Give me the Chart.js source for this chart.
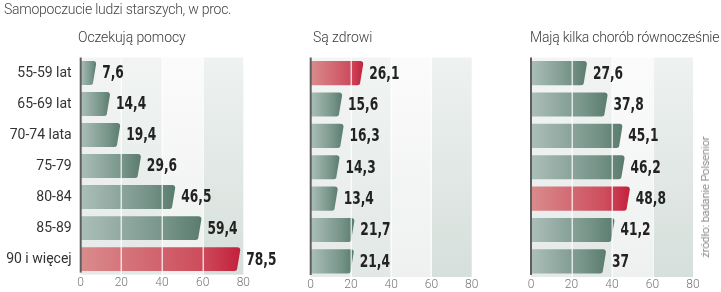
<!DOCTYPE html>
<html><head><meta charset="utf-8">
<script src="https://cdn.jsdelivr.net/npm/chart.js@4/dist/chart.umd.min.js"></script>
<style>
html,body{margin:0;padding:0;background:#fff;}
#wrap{position:relative;width:721px;height:292px;overflow:hidden;font-family:Roboto,sans-serif;}
canvas{position:absolute;top:0;left:0;}
.t{position:absolute;white-space:nowrap;color:#3a3a3a;line-height:16px;}
</style></head><body>
<div id="wrap">
<canvas id="c1" width="721" height="292"></canvas>
<canvas id="c2" width="721" height="292"></canvas>
<canvas id="c3" width="721" height="292"></canvas>
<div class="t" id="mainTitle" style="left:4px;top:1px;font-size:14px;font-weight:300;color:#444;letter-spacing:-0.25px;"></div>
<div class="t" id="pt0" style="left:78px;top:29px;font-size:14px;font-weight:300;letter-spacing:-0.1px;"></div>
<div class="t" id="pt1" style="left:313px;top:29px;font-size:14px;font-weight:300;letter-spacing:-0.05px;"></div>
<div class="t" id="pt2" style="left:530px;top:29px;font-size:14px;font-weight:300;letter-spacing:-0.22px;"></div>
<div class="t" id="src" style="left:706px;top:197px;font-size:11px;font-weight:300;color:#555;transform:translate(-50%,-50%) rotate(-90deg);"></div>
</div>
<script>
const categories = ['55-59 lat','65-69 lat','70-74 lata','75-79','80-84','85-89','90 i więcej'];
const expectHelp = [7.6,14.4,19.4,29.6,46.5,59.4,78.5];
const healthy = [26.1,15.6,16.3,14.3,13.4,21.7,21.4];
const multiDisease = [27.6,37.8,45.1,46.2,48.8,41.2,37];
const xTicks = [0,20,40,60,80];
const panelTitles = ['Oczekują pomocy','Są zdrowi','Mają kilka chorób równocześnie'];
const highlightIndex = [6,0,4];
const mainTitle = 'Samopoczucie ludzi starszych, w proc.';
const sourceText = 'źródło: badanie Polsenior';

document.getElementById('mainTitle').textContent = mainTitle;
panelTitles.forEach((t,i)=>document.getElementById('pt'+i).textContent = t);
document.getElementById('src').textContent = sourceText;

const bandTop = ['#f3f5f4','#f1f4f3','#fbfbfb','#eef2f0'];
const bandBot = ['#e5eae8','#e2e8e5','#eef1ef','#d6dfdb'];

const deco = {
  id:'deco',
  beforeDatasetsDraw(chart){
    const {ctx, chartArea:a, scales:{x}} = chart;
    ctx.save();
    for(let i=0;i<xTicks.length-1;i++){
      const x0 = x.getPixelForValue(xTicks[i]), x1 = x.getPixelForValue(xTicks[i+1]);
      const g = ctx.createLinearGradient(0,a.top,0,a.bottom);
      g.addColorStop(0,bandTop[i]); g.addColorStop(1,bandBot[i]);
      ctx.fillStyle = g;
      ctx.fillRect(x0,a.top,x1-x0,a.bottom-a.top);
    }
    ctx.restore();
  },
  afterDatasetsDraw(chart, args, opts){
    const {ctx, chartArea:a, scales:{x}} = chart;
    const meta = chart.getDatasetMeta(0);
    const data = chart.data.datasets[0].data;
    ctx.save();
    meta.data.forEach((el,i)=>{
      const p = el.getProps(['x','y','base','height'],true);
      const x0 = p.base, x1 = p.x, h = p.height;
      const yT = p.y - h/2, yB = p.y + h/2;
      const r = 3, s = 3;
      const red = i === opts.hi;
      const g = ctx.createLinearGradient(x0,0,x1,0);
      if(red){ g.addColorStop(0,'#d98c8c'); g.addColorStop(0.75,'#cd4d5d'); g.addColorStop(1,'#c4203c'); }
      else { g.addColorStop(0,'#abbfb8'); g.addColorStop(0.7,'#779489'); g.addColorStop(1,'#5a7c6e'); }
      ctx.fillStyle = g;
      ctx.beginPath();
      ctx.moveTo(x0,yT);
      ctx.lineTo(x1-r,yT);
      ctx.quadraticCurveTo(x1,yT,x1,yT+r);
      ctx.lineTo(x1-s,yB-r);
      ctx.quadraticCurveTo(x1-s,yB,x1-s-r,yB);
      ctx.lineTo(x0,yB);
      ctx.closePath();
      ctx.fill();
    });
    ctx.strokeStyle = 'rgba(255,255,255,0.75)';
    ctx.lineWidth = 1.5;
    xTicks.slice(1,-1).forEach(v=>{
      const px = Math.round(x.getPixelForValue(v))+0.25;
      ctx.beginPath(); ctx.moveTo(px,a.top); ctx.lineTo(px,a.bottom); ctx.stroke();
    });
    ctx.strokeStyle = '#5e5e5e';
    ctx.lineWidth = 2;
    const ax = x.getPixelForValue(0);
    ctx.beginPath(); ctx.moveTo(ax,a.top); ctx.lineTo(ax,a.bottom-2); ctx.stroke();
    ctx.fillStyle = '#222';
    ctx.font = 'bold 17px "DejaVu Sans Condensed", "DejaVu Sans", sans-serif';
    ctx.textBaseline = 'middle';
    ctx.textAlign = 'left';
    meta.data.forEach((el,i)=>{
      const p = el.getProps(['x','y'],true);
      ctx.save();
      ctx.translate(p.x+6, p.y+1);
      ctx.scale(0.8,1);
      ctx.fillText(String(data[i]).replace('.',','), 0, 0);
      ctx.restore();
    });
    ctx.restore();
  }
};

const panels = [
  {id:'c1', data:expectHelp, left:80.7, right:243.3, showY:true},
  {id:'c2', data:healthy, left:310.7, right:471.7, showY:false},
  {id:'c3', data:multiDisease, left:531, right:693, showY:false}
];
const TOP = 57.5, BOTTOM = 277;

panels.forEach((p,idx)=>{
  new Chart(document.getElementById(p.id),{
    type:'bar',
    data:{labels:categories, datasets:[{data:p.data, backgroundColor:'rgba(0,0,0,0)', borderWidth:0, barPercentage:0.77, categoryPercentage:1}]},
    options:{
      indexAxis:'y', responsive:false, animation:false,
      events:[],
      layout:{padding:{left:p.showY?0:p.left, right:721-p.right, top:TOP, bottom:1}},
      plugins:{legend:{display:false}, tooltip:{enabled:false}, deco:{hi:highlightIndex[idx]}},
      scales:{
        x:{type:'linear', min:0, max:80,
           afterBuildTicks(s){ s.ticks = xTicks.map(v=>({value:v})); },
           afterFit(s){ s.height = 14; },
           grid:{display:false, drawTicks:false}, border:{display:false},
           ticks:{padding:1, color:'#777', font:{family:'Roboto', size:12, weight:300}, maxRotation:0, autoSkip:false}},
        y:{type:'category',
           afterFit(s){ s.width = p.showY ? p.left : 0; },
           display: p.showY,
           grid:{display:false, drawTicks:false}, border:{display:false},
           ticks:{padding:9, color:'#333', font:{family:'Roboto', size:14, weight:400}}}
      }
    },
    plugins:[deco]
  });
});
</script>
</body></html>
